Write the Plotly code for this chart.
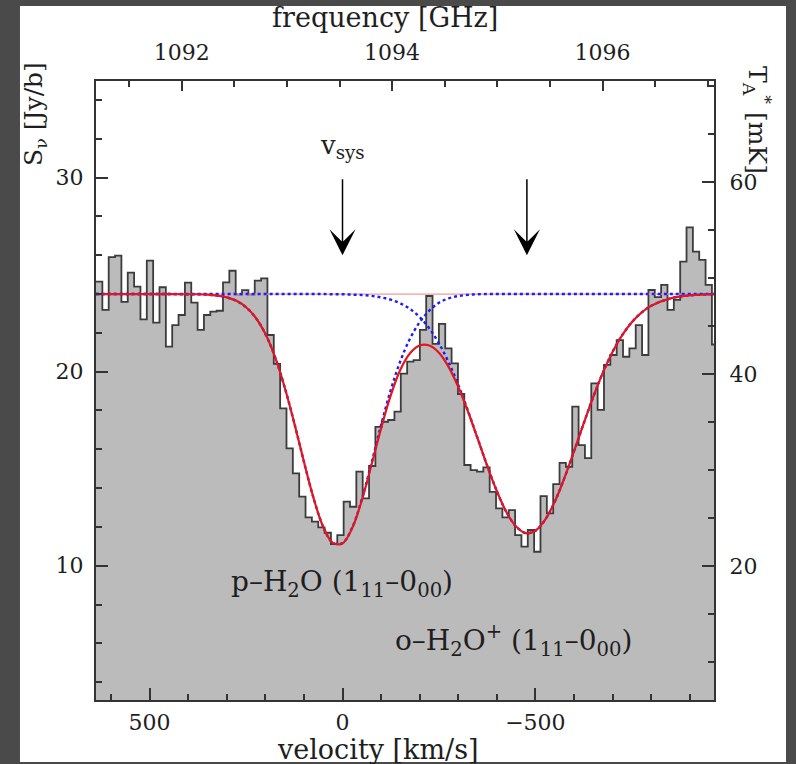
import numpy as np
import plotly.graph_objects as go

# ---------------- data ----------------
# spectrum: flux density per channel [Jy/beam], channels run from high to low velocity
V_FIRST_EDGE = 639.0      # km/s, left edge of first channel
CHAN_WIDTH = 16.46        # km/s
FLUX = [24.64, 23.18, 25.90, 25.98, 23.60, 25.10, 24.38, 22.70, 25.72, 22.53,
        24.35, 21.29, 22.40, 22.92, 24.59, 23.56, 22.15, 22.92, 23.09, 23.14,
        24.60, 25.20, 23.98, 24.20, 23.98, 24.69, 24.81, 21.89, 20.40, 18.11,
        16.05, 14.76, 13.56, 12.49, 12.27, 11.98, 11.70, 11.12, 11.58, 13.30,
        13.04, 14.85, 13.47, 15.14, 17.16, 17.42, 17.51, 17.94, 19.90, 20.52,
        20.60, 22.15, 23.90, 21.43, 22.46, 21.20, 20.43, 18.85, 15.19, 14.93,
        14.85, 15.07, 13.81, 12.96, 12.49, 12.87, 11.58, 10.98, 11.84, 10.72,
        13.59, 12.70, 14.21, 15.30, 15.10, 18.20, 16.22, 15.54, 19.40, 18.03,
        20.35, 20.86, 21.63, 20.77, 21.20, 22.40, 20.86, 24.21, 23.84, 24.47,
        23.18, 23.70, 25.67, 27.44, 26.19, 25.76, 24.47, 21.40]

CONTINUUM = 24.0

# fitted profiles (velocity in km/s)
V_FIT = [640, 550, 450, 400, 375, 350, 325, 300, 275, 250, 225, 200, 175, 150, 125,
         100, 75, 50, 25, 0, -25, -50, -75, -100, -125, -150, -175, -200, -225,
         -250, -275, -300, -325, -350, -375, -400, -425, -450, -475, -500, -525,
         -550, -575, -600, -625, -650, -675, -700, -725, -750, -775, -800, -850,
         -900, -963]
FIT_TOTAL = [24.00, 24.00, 24.00, 23.99, 23.99, 23.97, 23.92, 23.83, 23.65, 23.32,
             22.78, 21.95, 20.76, 19.20, 17.35, 15.36, 13.48, 12.00, 11.18, 11.15,
             11.93, 13.37, 15.19, 17.08, 18.78, 20.10, 20.95, 21.35, 21.35, 20.98,
             20.25, 19.22, 17.96, 16.57, 15.15, 13.85, 12.76, 12.02, 11.68, 11.80,
             12.36, 13.29, 14.51, 15.89, 17.32, 18.70, 19.95, 21.02, 21.88, 22.55,
             23.04, 23.39, 23.78, 23.93, 23.99]
FIT_H2O = [24.00, 24.00, 24.00, 23.99, 23.99, 23.97, 23.92, 23.83, 23.65, 23.32,
           22.78, 21.95, 20.76, 19.20, 17.35, 15.36, 13.48, 12.01, 11.18, 11.17,
           11.96, 13.42, 15.28, 17.25, 19.05, 20.55, 21.70, 22.55, 23.15, 23.55,
           23.78, 23.90, 23.96, 23.99, 24.00, 24.00, 24.00, 24.00, 24.00, 24.00,
           24.00, 24.00, 24.00, 24.00, 24.00, 24.00, 24.00, 24.00, 24.00, 24.00,
           24.00, 24.00, 24.00, 24.00, 24.00]
FIT_H2OP = [24.00, 24.00, 24.00, 24.00, 24.00, 24.00, 24.00, 24.00, 24.00, 24.00,
            24.00, 24.00, 24.00, 24.00, 24.00, 24.00, 24.00, 24.00, 23.99, 23.99,
            23.97, 23.95, 23.91, 23.83, 23.71, 23.52, 23.23, 22.81, 22.23, 21.46,
            20.49, 19.32, 18.00, 16.58, 15.16, 13.85, 12.76, 12.02, 11.68, 11.80,
            12.36, 13.29, 14.51, 15.89, 17.32, 18.70, 19.95, 21.02, 21.88, 22.55,
            23.04, 23.39, 23.78, 23.93, 23.99]

ARROW_V = [0, -478]          # km/s
ARROW_FROM, ARROW_TO = 30.0, 26.0

# axis ranges
V_RANGE = [639, -963]
S_RANGE = [3.08, 34.98]
F_RANGE = [1091.185, 1097.06]
T_RANGE = [6.03, 70.55]

# ---------------- figure ----------------
edges = V_FIRST_EDGE - CHAN_WIDTH * np.arange(len(FLUX) + 1)
step_x = list(edges)
step_y = FLUX + [FLUX[-1]]

FONT = "DejaVu Serif"
AXC = "#333333"
TXT = "#1e1e1e"

fig = go.Figure()
fig.add_trace(go.Scatter(x=step_x, y=step_y, mode="lines", line_shape="hv",
                         line=dict(color="#3c3c3c", width=1.8),
                         fill="tozeroy", fillcolor="#bbbbbb",
                         hoverinfo="skip", showlegend=False))
fig.add_trace(go.Scatter(x=[V_RANGE[0], V_RANGE[1]], y=[CONTINUUM, CONTINUUM],
                         mode="lines", line=dict(color="#f29a9a", width=1.2),
                         hoverinfo="skip", showlegend=False))
for comp in (FIT_H2O, FIT_H2OP):
    fig.add_trace(go.Scatter(x=V_FIT, y=comp, mode="lines", line_shape="spline",
                             line=dict(color="#1c1cff", width=2.4, dash="dot"),
                             hoverinfo="skip", showlegend=False))
fig.add_trace(go.Scatter(x=V_FIT, y=FIT_TOTAL, mode="lines", line_shape="spline",
                         line=dict(color="#e3161d", width=2.2),
                         hoverinfo="skip", showlegend=False))
# invisible trace to create the top/right axes subplot
fig.add_trace(go.Scatter(x=[F_RANGE[0]], y=[T_RANGE[0]], xaxis="x2", yaxis="y2",
                         mode="markers", marker=dict(opacity=0),
                         hoverinfo="skip", showlegend=False))

tick_common = dict(ticks="inside", tickcolor=AXC, tickwidth=1.5, showline=True,
                   linecolor=AXC, linewidth=2, showgrid=False, zeroline=False,
                   tickfont=dict(family=FONT, size=22, color=TXT))

fig.update_layout(
    width=796, height=764,
    margin=dict(l=96, r=82, t=81, b=64),
    paper_bgcolor="#4a4a4a", plot_bgcolor="white",
    xaxis=dict(range=V_RANGE, tick0=0, dtick=500, ticklen=12,
               ticklabelstandoff=2,
               minor=dict(dtick=100, tick0=0, ticklen=6, ticks="inside",
                          tickcolor=AXC, tickwidth=1.5),
               **tick_common),
    yaxis=dict(range=S_RANGE, tick0=0, dtick=10, ticklen=12,
               ticklabelstandoff=6,
               minor=dict(dtick=2, tick0=0, ticklen=6, ticks="inside",
                          tickcolor=AXC, tickwidth=1.5),
               **tick_common),
    xaxis2=dict(range=F_RANGE, overlaying="x", side="top", anchor="y2",
                tick0=0, dtick=2, ticklen=10, ticklabelstandoff=10,
                minor=dict(dtick=0.5, tick0=0, ticklen=6, ticks="inside",
                           tickcolor=AXC, tickwidth=1.5),
                **tick_common),
    yaxis2=dict(range=T_RANGE, overlaying="y", side="right", anchor="x2",
                tick0=0, dtick=20, ticklen=12, ticklabelstandoff=9,
                minor=dict(dtick=5, tick0=0, ticklen=6, ticks="inside",
                           tickcolor=AXC, tickwidth=1.5),
                **tick_common),
    shapes=[dict(type="rect", xref="paper", yref="paper",
                 x0=-0.123, x1=1.1165, y0=-0.1002, y1=1.1212,
                 fillcolor="white", line=dict(width=0), layer="below")],
)

ann = []
for v in ARROW_V:
    ann.append(dict(x=v, y=ARROW_TO, ax=v, ay=ARROW_FROM, xref="x", yref="y",
                    axref="x", ayref="y", showarrow=True, arrowhead=3,
                    arrowsize=2.9, arrowwidth=1.5, arrowcolor="black", text=""))
tf = dict(family=FONT, size=28, color=TXT)
ann += [
    dict(x=0, y=31.6, xref="x", yref="y", text="v<sub>sys</sub>", showarrow=False,
         xanchor="center", yanchor="middle", font=dict(family=FONT, size=26, color=TXT)),
    dict(x=295, y=9.1, xref="x", yref="y", xanchor="left", yanchor="middle",
         text="p–H<sub>2</sub>O (1<sub>11</sub>–0<sub>00</sub>)", showarrow=False,
         font=tf),
    dict(x=-132, y=6.17, xref="x", yref="y", xanchor="left", yanchor="middle",
         text="o–H<sub>2</sub>O<sup>+</sup> (1<sub>11</sub>–0<sub>00</sub>)",
         showarrow=False, font=tf),
    dict(x=0.4676, y=1.1018, xref="paper", yref="paper", text="frequency [GHz]",
         xanchor="center", yanchor="middle", showarrow=False,
         font=dict(family=FONT, size=27, color=TXT)),
    dict(x=0.4563, y=-0.08, xref="paper", yref="paper", text="velocity [km/s]",
         xanchor="center", yanchor="middle", showarrow=False,
         font=dict(family=FONT, size=27, color=TXT)),
    dict(x=-0.0987, y=0.9467, xref="paper", yref="paper",
         text="S<sub>ν</sub> [Jy/b]", textangle=-90, showarrow=False,
         xanchor="center", yanchor="middle",
         font=dict(family=FONT, size=25, color=TXT)),
    dict(x=1.0696, y=0.937, xref="paper", yref="paper",
         text="T<sub>A</sub><sup>*</sup> [mK]", textangle=90, showarrow=False,
         xanchor="center", yanchor="middle",
         font=dict(family=FONT, size=25, color=TXT)),
]
fig.update_layout(annotations=ann)

fig.write_html(
    "out.html",
    config={"displayModeBar": False},
    post_script="document.body.style.margin='0px';"
                "document.body.style.background='#4a4a4a';",
)
